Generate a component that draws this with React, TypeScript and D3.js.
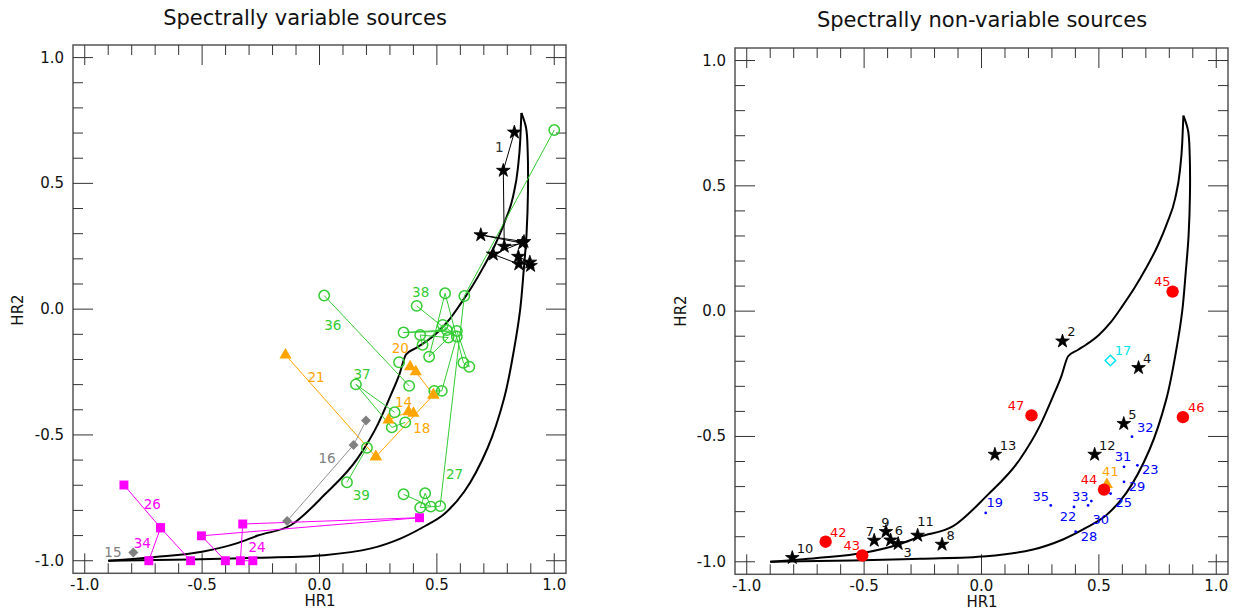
import React from 'react';
import * as d3 from 'd3';

type P = [number, number];

// ---- model curves (HR1, HR2) ----
const innerCurve: P[] = [
  [-0.9, -1.0], [-0.7, -0.985], [-0.5, -0.964], [-0.35, -0.93], [-0.263, -0.9], [-0.121, -0.858],
  [0.021, -0.738], [0.163, -0.592], [0.25, -0.455], [0.305, -0.339], [0.34, -0.26], [0.369, -0.18],
  [0.41, -0.155], [0.447, -0.133], [0.5, -0.095], [0.55, -0.045], [0.6, 0.02], [0.65, 0.09],
  [0.7, 0.17], [0.75, 0.26], [0.79, 0.35], [0.825, 0.45], [0.845, 0.56], [0.855, 0.67], [0.86, 0.78],
];
const outerCurve: P[] = [
  [-0.9, -1.0], [-0.55, -0.995], [-0.26, -0.988], [0.02, -0.978], [0.22, -0.951], [0.347, -0.911],
  [0.45, -0.862], [0.53, -0.815], [0.617, -0.725], [0.716, -0.552], [0.787, -0.352], [0.83, -0.153],
  [0.855, 0.0], [0.87, 0.156], [0.882, 0.3], [0.888, 0.467], [0.887, 0.62], [0.88, 0.72], [0.86, 0.78],
];

// ---- spectrally variable sources ----
const src1: P[] = [[0.83, 0.703], [0.783, 0.551], [0.787, 0.249], [0.865, 0.262], [0.687, 0.295], [0.871, 0.268], [0.74, 0.218], [0.849, 0.179], [0.847, 0.209], [0.896, 0.186], [0.899, 0.173]];
const src27: P[] = [[0.358, -0.736], [0.474, -0.785], [0.45, -0.732], [0.429, -0.789], [0.514, -0.783], [0.617, 0.052], [1.0, 0.712]];
const src36: P[] = [[0.02, 0.054], [0.382, -0.305]];
const src37: P[] = [[0.32, -0.41], [0.155, -0.299], [0.308, -0.47], [0.365, -0.45]];
const src38: P[] = [[0.414, 0.013], [0.542, -0.083], [0.358, -0.093], [0.585, -0.087], [0.638, -0.229], [0.613, -0.213], [0.535, 0.063], [0.467, -0.189], [0.549, -0.113], [0.429, -0.103], [0.439, -0.142], [0.525, -0.063], [0.585, -0.109], [0.521, -0.325], [0.489, -0.325]];
const src38b: P[] = [[0.339, -0.211]];
const src39: P[] = [[0.202, -0.551], [0.117, -0.688]];
const src21: P[] = [[-0.145, -0.182], [0.24, -0.587]];
const src18: P[] = [[0.24, -0.587], [0.485, -0.341]];
const src20: P[] = [[0.386, -0.229], [0.41, -0.249], [0.485, -0.341]];
const src14: P[] = [[0.294, -0.441], [0.379, -0.408], [0.4, -0.414]];
const src16: P[] = [[-0.138, -0.842], [0.145, -0.54], [0.198, -0.443]];
const src15: P[] = [[-0.793, -0.967]];
const src26: P[] = [[-0.833, -0.699], [-0.677, -0.869], [-0.549, -1.0]];
const src34: P[] = [[-0.727, -1.0], [-0.677, -0.869]];
const src24: P[] = [[-0.401, -1.0], [-0.503, -0.901], [0.426, -0.829], [-0.327, -0.854], [-0.337, -1.0], [-0.284, -1.0]];

type Src = { pts: P[]; color: string; shape: string; line: boolean };
const varSources: Src[] = [
  { pts: src16, color: '#808080', shape: 'diamond', line: true },
  { pts: src15, color: '#808080', shape: 'diamond', line: false },
  { pts: src26, color: '#ff00ff', shape: 'square', line: true },
  { pts: src34, color: '#ff00ff', shape: 'square', line: true },
  { pts: src24, color: '#ff00ff', shape: 'square', line: true },
  { pts: src27, color: '#33cc33', shape: 'circle', line: true },
  { pts: src36, color: '#33cc33', shape: 'circle', line: true },
  { pts: src37, color: '#33cc33', shape: 'circle', line: true },
  { pts: src38, color: '#33cc33', shape: 'circle', line: true },
  { pts: src38b, color: '#33cc33', shape: 'circle', line: false },
  { pts: src39, color: '#33cc33', shape: 'circle', line: true },
  { pts: src21, color: '#ffa500', shape: 'triangle', line: true },
  { pts: src18, color: '#ffa500', shape: 'triangle', line: true },
  { pts: src20, color: '#ffa500', shape: 'triangle', line: true },
  { pts: src14, color: '#ffa500', shape: 'triangle', line: true },
  { pts: src1, color: '#000000', shape: 'star', line: true },
];

type Lab = { id: string; hr1: number; hr2: number; color: string };
const varLabels: Lab[] = [
  { id: '1', hr1: 0.766, hr2: 0.646, color: '#333333' },
  { id: '38', hr1: 0.431, hr2: 0.07, color: '#33cc33' },
  { id: '36', hr1: 0.057, hr2: -0.063, color: '#33cc33' },
  { id: '37', hr1: 0.181, hr2: -0.259, color: '#33cc33' },
  { id: '39', hr1: 0.178, hr2: -0.739, color: '#33cc33' },
  { id: '27', hr1: 0.575, hr2: -0.656, color: '#33cc33' },
  { id: '20', hr1: 0.344, hr2: -0.156, color: '#ffa500' },
  { id: '21', hr1: -0.015, hr2: -0.268, color: '#ffa500' },
  { id: '14', hr1: 0.358, hr2: -0.368, color: '#ffa500' },
  { id: '18', hr1: 0.436, hr2: -0.474, color: '#ffa500' },
  { id: '16', hr1: 0.032, hr2: -0.593, color: '#808080' },
  { id: '15', hr1: -0.88, hr2: -0.964, color: '#808080' },
  { id: '26', hr1: -0.712, hr2: -0.776, color: '#ff00ff' },
  { id: '34', hr1: -0.755, hr2: -0.928, color: '#ff00ff' },
  { id: '24', hr1: -0.266, hr2: -0.944, color: '#ff00ff' },
];

// ---- spectrally non-variable sources ----
type Pt = { id: string; hr1: number; hr2: number; lx: number; ly: number };
const nvStars: Pt[] = [
  { id: '2', hr1: 0.345, hr2: -0.12, lx: 0.383, ly: -0.082 },
  { id: '3', hr1: -0.355, hr2: -0.928, lx: -0.315, ly: -0.964 },
  { id: '4', hr1: 0.669, hr2: -0.226, lx: 0.706, ly: -0.189 },
  { id: '5', hr1: 0.606, hr2: -0.449, lx: 0.643, ly: -0.412 },
  { id: '6', hr1: -0.387, hr2: -0.914, lx: -0.352, ly: -0.875 },
  { id: '7', hr1: -0.457, hr2: -0.915, lx: -0.475, ly: -0.878 },
  { id: '8', hr1: -0.168, hr2: -0.931, lx: -0.131, ly: -0.894 },
  { id: '9', hr1: -0.407, hr2: -0.88, lx: -0.409, ly: -0.844 },
  { id: '10', hr1: -0.806, hr2: -0.984, lx: -0.752, ly: -0.948 },
  { id: '11', hr1: -0.272, hr2: -0.895, lx: -0.238, ly: -0.838 },
  { id: '12', hr1: 0.482, hr2: -0.572, lx: 0.536, ly: -0.536 },
  { id: '13', hr1: 0.057, hr2: -0.572, lx: 0.113, ly: -0.536 },
];
const nvRed: Pt[] = [
  { id: '42', hr1: -0.664, hr2: -0.92, lx: -0.61, ly: -0.882 },
  { id: '43', hr1: -0.508, hr2: -0.975, lx: -0.553, ly: -0.937 },
  { id: '44', hr1: 0.522, hr2: -0.712, lx: 0.458, ly: -0.673 },
  { id: '45', hr1: 0.814, hr2: 0.078, lx: 0.77, ly: 0.117 },
  { id: '46', hr1: 0.858, hr2: -0.423, lx: 0.915, ly: -0.383 },
  { id: '47', hr1: 0.213, hr2: -0.416, lx: 0.147, ly: -0.376 },
];
const nvBlue: Pt[] = [
  { id: '19', hr1: 0.018, hr2: -0.805, lx: 0.057, ly: -0.765 },
  { id: '22', hr1: 0.394, hr2: -0.781, lx: 0.369, ly: -0.818 },
  { id: '23', hr1: 0.664, hr2: -0.615, lx: 0.719, ly: -0.632 },
  { id: '25', hr1: 0.55, hr2: -0.728, lx: 0.606, ly: -0.765 },
  { id: '28', hr1: 0.401, hr2: -0.88, lx: 0.458, ly: -0.898 },
  { id: '29', hr1: 0.607, hr2: -0.681, lx: 0.662, ly: -0.698 },
  { id: '30', hr1: 0.454, hr2: -0.775, lx: 0.508, ly: -0.831 },
  { id: '31', hr1: 0.607, hr2: -0.621, lx: 0.603, ly: -0.581 },
  { id: '32', hr1: 0.641, hr2: -0.501, lx: 0.698, ly: -0.463 },
  { id: '33', hr1: 0.468, hr2: -0.758, lx: 0.421, ly: -0.741 },
  { id: '35', hr1: 0.295, hr2: -0.775, lx: 0.252, ly: -0.738 },
];
const nvCyan: Pt[] = [{ id: '17', hr1: 0.549, hr2: -0.197, lx: 0.603, ly: -0.157 }];
const nvOrange: Pt[] = [{ id: '41', hr1: 0.534, hr2: -0.692, lx: 0.549, ly: -0.641 }];

const majorTicks = [-1, -0.5, 0, 0.5, 1];
const minorTicks = d3.range(-10, 11).map((i) => i / 10).filter((v) => Math.abs(v * 2 - Math.round(v * 2)) > 1e-6);

const FONT = 'DejaVu Sans, sans-serif';

const symStar = d3.symbol(d3.symbolStar, 58)()!;
const symTri = d3.symbol(d3.symbolTriangle, 64)()!;
const symSq = d3.symbol(d3.symbolSquare, 80)()!;
const symDia = d3.symbol(d3.symbolSquare, 50)()!;
const symDiaCyan = d3.symbol(d3.symbolSquare, 55)()!;

function Marker({ shape, color, x, y }: { shape: string; color: string; x: number; y: number }) {
  if (shape === 'circle')
    return <circle cx={x} cy={y} r={5.2} fill="none" stroke={color} strokeWidth={1.5} />;
  if (shape === 'star') return <path d={symStar} transform={`translate(${x},${y})`} fill={color} stroke={color} strokeWidth={0.8} />;
  if (shape === 'triangle') return <path d={symTri} transform={`translate(${x},${y})`} fill={color} />;
  if (shape === 'square') return <path d={symSq} transform={`translate(${x},${y})`} fill={color} />;
  if (shape === 'diamond') return <path d={symDia} transform={`translate(${x},${y}) rotate(45)`} fill={color} />;
  return null;
}

function Frame({ x, y }: { x: d3.ScaleLinear<number, number>; y: d3.ScaleLinear<number, number> }) {
  const [x0, x1] = x.range();
  const [y0, y1] = y.range(); // y0 bottom, y1 top
  const tc = '#333';
  const items: React.ReactNode[] = [];
  const add = (v: number, len: number, k: string) => {
    const px = x(v), py = y(v);
    items.push(<line key={`b${k}`} x1={px} x2={px} y1={y0} y2={y0 - len} stroke={tc} strokeWidth={1} />);
    items.push(<line key={`t${k}`} x1={px} x2={px} y1={y1} y2={y1 + len} stroke={tc} strokeWidth={1} />);
    items.push(<line key={`l${k}`} x1={x0} x2={x0 + len} y1={py} y2={py} stroke={tc} strokeWidth={1} />);
    items.push(<line key={`r${k}`} x1={x1} x2={x1 - len} y1={py} y2={py} stroke={tc} strokeWidth={1} />);
  };
  majorTicks.forEach((v, i) => add(v, 20, `M${i}`));
  minorTicks.forEach((v, i) => add(v, 10, `m${i}`));
  return (
    <g>
      <rect x={x0} y={y1} width={x1 - x0} height={y0 - y1} fill="none" stroke="#555" strokeWidth={1.5} />
      {items}
      {majorTicks.map((v) => (
        <text key={`xl${v}`} x={x(v)} y={y0 + 12} textAnchor="middle" dominantBaseline="central" fontSize={15} fill="#111" fontFamily={FONT}>
          {v.toFixed(1)}
        </text>
      ))}
      {majorTicks.map((v) => (
        <text key={`yl${v}`} x={x0 - 9} y={y(v)} textAnchor="end" dominantBaseline="central" fontSize={15} fill="#111" fontFamily={FONT}>
          {v.toFixed(1)}
        </text>
      ))}
    </g>
  );
}

export default function App() {
  const xL = d3.scaleLinear().domain([-1.05, 1.05]).range([73, 566]);
  const yL = d3.scaleLinear().domain([-1.05, 1.05]).range([573.3, 45]);
  const xR = d3.scaleLinear().domain([-1.05, 1.05]).range([735, 1228]);
  const yR = d3.scaleLinear().domain([-1.05, 1.05]).range([574.3, 48]);

  const innerL = d3.line<P>().x((d) => xL(d[0])).y((d) => yL(d[1])).curve(d3.curveMonotoneX);
  const outerL = d3.line<P>().x((d) => xL(d[0])).y((d) => yL(d[1])).curve(d3.curveCatmullRom.alpha(0.5));
  const innerR = d3.line<P>().x((d) => xR(d[0])).y((d) => yR(d[1])).curve(d3.curveMonotoneX);
  const outerR = d3.line<P>().x((d) => xR(d[0])).y((d) => yR(d[1])).curve(d3.curveCatmullRom.alpha(0.5));
  const segL = d3.line<P>().x((d) => xL(d[0])).y((d) => yL(d[1]));

  return (
    <svg width={1234} height={610} style={{ position: 'absolute', left: 0, top: 0, background: '#fff' }}>
      <rect x={0} y={0} width={1234} height={610} fill="#fff" />
      {/* Titles */}
      <text x={305} y={18} textAnchor="middle" dominantBaseline="central" fontSize={21} fontFamily={FONT} fill="#111">
        Spectrally variable sources
      </text>
      <text x={982} y={20} textAnchor="middle" dominantBaseline="central" fontSize={21} fontFamily={FONT} fill="#111">
        Spectrally non-variable sources
      </text>

      {/* Left panel */}
      <Frame x={xL} y={yL} />
      <path d={innerL(innerCurve)!} fill="none" stroke="#000" strokeWidth={2} />
      <path d={outerL(outerCurve)!} fill="none" stroke="#000" strokeWidth={2} />
      {varSources.filter((s) => s.line && s.pts.length > 1).map((s, i) => (
        <path key={`ln${i}`} d={segL(s.pts)!} fill="none" stroke={s.color === '#808080' ? '#909090' : s.color} strokeWidth={1} />
      ))}
      {varSources.map((s, i) =>
        s.pts.map((p, j) => <Marker key={`mk${i}-${j}`} shape={s.shape} color={s.color} x={xL(p[0])} y={yL(p[1])} />)
      )}
      {varLabels.map((l) => (
        <text key={`vl${l.id}`} x={xL(l.hr1)} y={yL(l.hr2)} textAnchor="middle" dominantBaseline="central" fontSize={13.5} fill={l.color} fontFamily={FONT}>
          {l.id}
        </text>
      ))}
      <text x={320} y={601} textAnchor="middle" dominantBaseline="central" fontSize={15} fontFamily={FONT} fill="#111">HR1</text>
      <text transform="translate(18,310) rotate(-90)" textAnchor="middle" dominantBaseline="central" fontSize={15} fontFamily={FONT} fill="#111">HR2</text>

      {/* Right panel */}
      <Frame x={xR} y={yR} />
      <path d={innerR(innerCurve)!} fill="none" stroke="#000" strokeWidth={2} />
      <path d={outerR(outerCurve)!} fill="none" stroke="#000" strokeWidth={2} />
      {nvBlue.map((p) => (
        <circle key={`bd${p.id}`} cx={xR(p.hr1)} cy={yR(p.hr2)} r={1.4} fill="#0000ff" />
      ))}
      {nvOrange.map((p) => (
        <path key={`or${p.id}`} d={symTri} transform={`translate(${xR(p.hr1)},${yR(p.hr2)})`} fill="#ffa500" />
      ))}
      {nvCyan.map((p) => (
        <path key={`cy${p.id}`} d={symDiaCyan} transform={`translate(${xR(p.hr1)},${yR(p.hr2)}) rotate(45)`} fill="none" stroke="#00e5ee" strokeWidth={1.5} />
      ))}
      {nvRed.map((p) => (
        <circle key={`rd${p.id}`} cx={xR(p.hr1)} cy={yR(p.hr2)} r={6.2} fill="#ff0000" />
      ))}
      {nvStars.map((p) => (
        <path key={`st${p.id}`} d={symStar} transform={`translate(${xR(p.hr1)},${yR(p.hr2)})`} fill="#000" stroke="#000" strokeWidth={0.8} />
      ))}
      {[
        ...nvStars.map((p) => ({ ...p, c: '#111' })),
        ...nvRed.map((p) => ({ ...p, c: '#ff0000' })),
        ...nvBlue.map((p) => ({ ...p, c: '#0000ff' })),
        ...nvCyan.map((p) => ({ ...p, c: '#00e5ee' })),
        ...nvOrange.map((p) => ({ ...p, c: '#ffa500' })),
      ].map((p) => (
        <text key={`nl${p.id}`} x={xR(p.lx)} y={yR(p.ly)} textAnchor="middle" dominantBaseline="central" fontSize={13} fill={p.c} fontFamily={FONT}>
          {p.id}
        </text>
      ))}
      <text x={982} y={602} textAnchor="middle" dominantBaseline="central" fontSize={15} fontFamily={FONT} fill="#111">HR1</text>
      <text transform="translate(681,311) rotate(-90)" textAnchor="middle" dominantBaseline="central" fontSize={15} fontFamily={FONT} fill="#111">HR2</text>
    </svg>
  );
}
